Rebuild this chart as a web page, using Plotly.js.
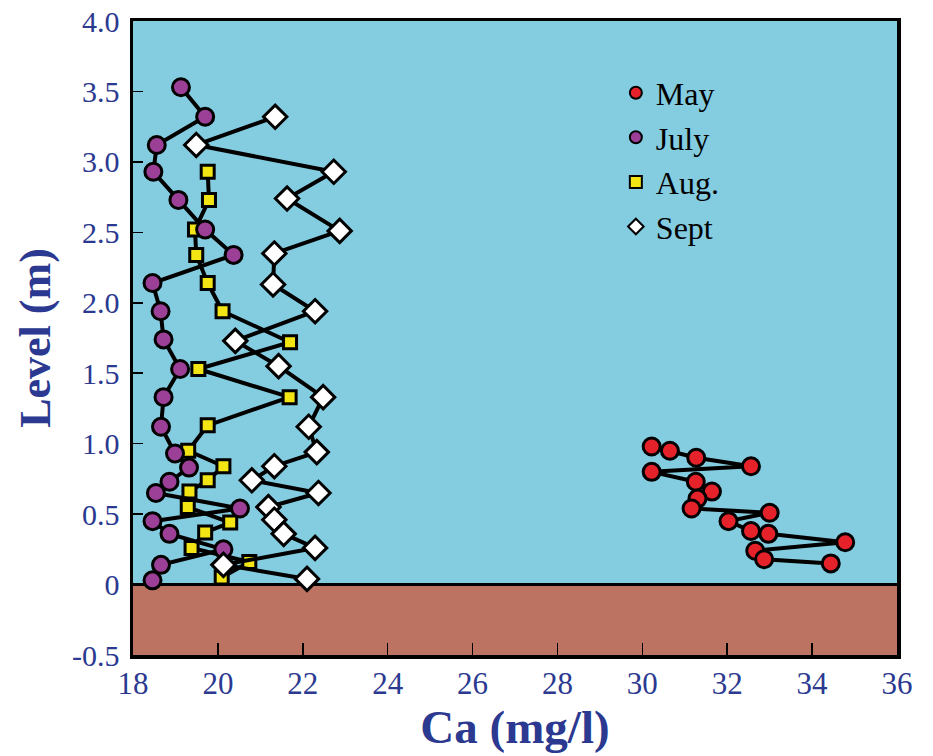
<!DOCTYPE html>
<html>
<head>
<meta charset="utf-8">
<script src="https://cdn.plot.ly/plotly-3.0.1.min.js"></script>
<style>html,body{margin:0;padding:0;background:#fff;}#chart{width:933px;height:756px;}</style>
</head>
<body>
<div id="chart"></div>
<script>
const seriesNames = ["May", "July", "Aug.", "Sept"];

const mayCa = [30.22, 30.65, 31.27, 32.56, 30.22, 31.26, 31.64, 31.30, 31.16, 33.00, 32.03, 32.56, 32.97, 34.78, 32.66, 32.87, 34.44];
const mayLevel = [0.98, 0.95, 0.90, 0.84, 0.80, 0.73, 0.66, 0.61, 0.54, 0.51, 0.45, 0.38, 0.36, 0.30, 0.24, 0.18, 0.15];

const julyCa = [19.13, 19.70, 18.56, 18.48, 19.07, 19.70, 20.37, 18.46, 18.65, 18.72, 19.11, 18.72, 18.66, 18.99, 19.32, 18.86, 18.54, 20.52, 18.46, 18.86, 20.13, 18.66, 18.46];
const julyLevel = [3.53, 3.32, 3.12, 2.93, 2.73, 2.52, 2.34, 2.14, 1.94, 1.74, 1.53, 1.33, 1.12, 0.93, 0.83, 0.73, 0.65, 0.54, 0.45, 0.36, 0.25, 0.14, 0.03];

const augCa = [19.76, 19.79, 19.46, 19.49, 19.76, 20.11, 21.70, 19.54, 21.69, 19.76, 19.30, 20.13, 19.76, 19.33, 19.29, 20.29, 19.70, 19.38, 20.74, 20.09];
const augLevel = [2.93, 2.73, 2.52, 2.34, 2.14, 1.94, 1.72, 1.53, 1.33, 1.13, 0.95, 0.84, 0.74, 0.66, 0.55, 0.44, 0.37, 0.26, 0.16, 0.05];

const septCa = [21.35, 19.49, 22.73, 21.63, 22.87, 21.33, 21.30, 22.29, 20.41, 21.43, 22.48, 22.14, 22.33, 21.33, 20.80, 22.37, 21.19, 21.33, 21.55, 22.29, 20.13, 22.10];
const septLevel = [3.32, 3.12, 2.93, 2.74, 2.51, 2.35, 2.13, 1.94, 1.73, 1.55, 1.33, 1.12, 0.94, 0.84, 0.74, 0.65, 0.55, 0.46, 0.36, 0.26, 0.14, 0.04];

const xTickVals = [18, 20, 22, 24, 26, 28, 30, 32, 34, 36];
const xTickText = ["18", "20", "22", "24", "26", "28", "30", "32", "34", "36"];
const yTickVals = [4.0, 3.5, 3.0, 2.5, 2.0, 1.5, 1.0, 0.5, 0, -0.5];
const yTickText = ["4.0", "3.5", "3.0", "2.5", "2.0", "1.5", "1.0", "0.5", "0", "-0.5"];

const navy = "#2B3990";
const styles = {
  "May":  {symbol: "circle", color: "#E5222A", size: 17},
  "July": {symbol: "circle", color: "#9B3F97", size: 17},
  "Aug.": {symbol: "square", color: "#F3E514", size: 13},
  "Sept": {symbol: "diamond", color: "#FFFFFF", size: 18}
};
const dataBy = {
  "May": [mayCa, mayLevel],
  "July": [julyCa, julyLevel],
  "Aug.": [augCa, augLevel],
  "Sept": [septCa, septLevel]
};

const drawOrder = ["Aug.", "July", "Sept", "May"];
const traces = [];
drawOrder.forEach(name => {
  const s = styles[name];
  traces.push({
    type: "scatter", mode: "lines+markers", name: name, showlegend: false,
    x: dataBy[name][0], y: dataBy[name][1],
    line: {color: "#000", width: 4},
    marker: {symbol: s.symbol, color: s.color, size: s.size, line: {color: "#000", width: 3}},
    cliponaxis: false
  });
});
seriesNames.forEach(name => {
  const s = styles[name];
  traces.push({
    type: "scatter", mode: "markers", name: name, showlegend: true,
    x: [null], y: [null],
    marker: {symbol: s.symbol, color: s.color, size: Math.min(s.size, 14), line: {color: "#000", width: 3}}
  });
});

const layout = {
  width: 933, height: 756,
  margin: {l: 133, r: 36, t: 21, b: 101},
  paper_bgcolor: "#FFFFFF",
  plot_bgcolor: "#84CCE0",
  font: {family: "Liberation Serif, serif", color: navy},
  showlegend: true,
  legend: {
    x: 0.632, y: 0.93, xanchor: "left", yanchor: "top",
    bgcolor: "rgba(0,0,0,0)",
    font: {family: "Liberation Serif, serif", size: 32, color: "#000"},
    itemsizing: "constant"
  },
  xaxis: {
    range: [18, 36], tickmode: "array", tickvals: xTickVals, ticktext: xTickText,
    ticks: "inside", ticklen: 12, tickwidth: 1.5, tickcolor: "#000",
    showline: true, linecolor: "#000", linewidth: 3.5, mirror: true,
    showgrid: false, zeroline: false,
    tickfont: {size: 31, color: navy, family: "Liberation Serif, serif"},
    ticklabelstandoff: -2,
    title: {text: "<b>Ca (mg/l)</b>", font: {size: 47, color: navy, family: "Liberation Serif, serif"}, standoff: 6}
  },
  yaxis: {
    range: [-0.5, 4.0], tickmode: "array", tickvals: yTickVals, ticktext: yTickText,
    ticks: "inside", ticklen: 10, tickwidth: 1.5, tickcolor: "#000",
    showline: true, linecolor: "#000", linewidth: 3.5, mirror: true,
    showgrid: false, zeroline: false,
    tickfont: {size: 30, color: navy, family: "Liberation Serif, serif"},
    ticklabelstandoff: 4,
    title: {text: "<b>Level (m)</b>", font: {size: 44, color: navy, family: "Liberation Serif, serif"}, standoff: 8}
  },
  shapes: [
    {type: "rect", xref: "paper", yref: "y", x0: 0, x1: 1, y0: -0.5, y1: 0,
     fillcolor: "#BC7362", line: {width: 0}, layer: "below"},
    {type: "line", xref: "paper", yref: "y", x0: 0, x1: 1, y0: 0, y1: 0,
     line: {color: "#000", width: 3}, layer: "below"}
  ]
};

Plotly.newPlot("chart", traces, layout, {displayModeBar: false, staticPlot: true});
</script>
</body>
</html>
